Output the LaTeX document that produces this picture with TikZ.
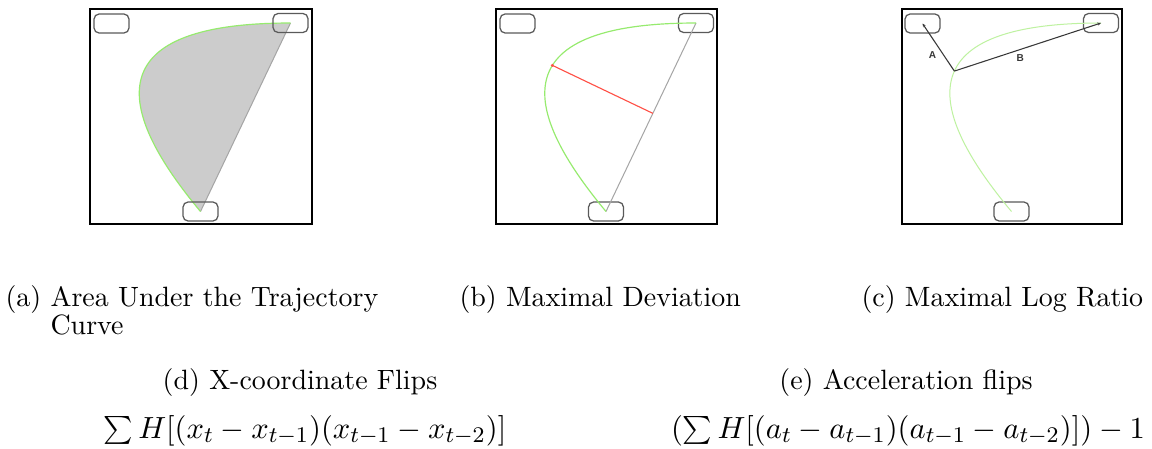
\documentclass[tikz,border=0pt]{standalone}
\usepackage{fontspec}
\newfontfamily\lblfont{Liberation Sans}
\usetikzlibrary{arrows.meta,calc,backgrounds}
\definecolor{traj}{RGB}{150,235,110}
\definecolor{trajlight}{RGB}{190,242,160}
\definecolor{areafill}{RGB}{204,204,204}
\definecolor{chord}{RGB}{165,165,165}
\definecolor{boxline}{RGB}{90,90,90}
\definecolor{devred}{RGB}{255,80,70}
\definecolor{vecline}{RGB}{55,55,55}
\begin{document}
\begin{tikzpicture}[x=0.358pt,y=-0.358pt,
  frame/.style={draw=black,line width=0.68pt},
  target/.style={draw=boxline,line width=0.45pt,rounded corners=1.8pt,minimum width=12.5pt,minimum height=6.8pt,inner sep=0pt},
  trajline/.style={draw=traj,line width=0.42pt},
  trajthin/.style={draw=trajlight,line width=0.36pt},
  chordline/.style={draw=chord,line width=0.36pt},
  devline/.style={draw=devred,line width=0.4pt},
  vec/.style={draw=vecline,line width=0.38pt,-{Stealth[length=1.3pt,width=1.1pt]}},
  lbl/.style={font=\lblfont\bfseries\fontsize{3.6}{4}\selectfont,inner sep=0pt,text=vecline},
  captext/.style={inner sep=0pt,font=\normalsize},
  eqtext/.style={inner sep=0pt,font=\fontsize{10.95}{13.6}\selectfont}
]
\begin{scope}[on background layer]
  \fill[white] (0,0) rectangle (1152,448);
\end{scope}
\useasboundingbox (0,0) rectangle (1152,448);

% ---------- panel (a)
\draw[frame] (90,9) rectangle (312,224);
\node[target] (a-tl) at (111.5,23.5) {};
\node[target] (a-tr) at (290.5,23) {};
\node[target] (a-b) at (200.5,211.5) {};
\begin{scope}[on background layer]
  \fill[areafill] (a-tr.center) .. controls (90.5,23) and (120.5,115.5) .. (a-b.center) -- cycle;
  \draw[chordline] (a-b.center) -- (a-tr.center);
  \draw[trajline] (a-tr.center) .. controls (90.5,23) and (120.5,115.5) .. (a-b.center);
\end{scope}

% ---------- panel (b)
\begin{scope}[shift={(406,0)}]
\draw[frame] (90,9) rectangle (311,224);
\node[target] (b-tl) at (111.5,23.5) {};
\node[target] (b-tr) at (290,23) {};
\node[target] (b-b) at (200,211.5) {};
\draw[chordline] (b-b.center) -- (b-tr.center);
\draw[trajline] (b-tr.center) .. controls (90,23) and (120,115.5) .. coordinate[pos=0.42] (b-p) (b-b.center);
\coordinate (b-f) at ($(b-b.center)!(b-p)!(b-tr.center)$);
\draw[devline] (b-p) -- (b-f);
\fill[devred] (b-p) circle (0.6pt);
\end{scope}

% ---------- panel (c)
\begin{scope}[shift={(811,0)}]
\draw[frame] (91,9) rectangle (311,224);
\node[target] (c-tl) at (111.5,23.5) {};
\node[target] (c-tr) at (290,23) {};
\node[target] (c-b) at (200.5,211.5) {};
\draw[trajthin] (c-tr.center) .. controls (90,23) and (120,115.5) .. coordinate[pos=0.45] (c-p) (c-b.center);
\draw[vec] (c-p) -- node[lbl,pos=0.33,left=2.6pt] {A} (c-tl.center);
\draw[vec] (c-p) -- node[lbl,pos=0.45,below=1.6pt] {B} (c-tr.center);
\end{scope}

% ---------- captions
\node[captext,anchor=base west] (cap-a1) at (5,306) {(a) Area Under the Trajectory};
\node[captext,anchor=base west] (cap-a2) at (5,334) {\phantom{(a)}\ Curve};
\node[captext,anchor=base west] (cap-b) at (459,306) {(b) Maximal Deviation};
\node[captext,anchor=base west] (cap-c) at (861,306) {(c) Maximal Log Ratio};
\node[captext,anchor=base] (cap-d) at (300,389) {(d) X-coordinate Flips};
\node[eqtext,anchor=base] (eq-d) at (305,438) {$\sum H[(x_t - x_{t-1})(x_{t-1} - x_{t-2})]$};
\node[captext,anchor=base] (cap-e) at (906,389) {(e) Acceleration flips};
\node[eqtext,anchor=base] (eq-e) at (908,438) {$(\sum H[(a_t - a_{t-1})(a_{t-1} - a_{t-2})]) - 1$};
\end{tikzpicture}
\end{document}
